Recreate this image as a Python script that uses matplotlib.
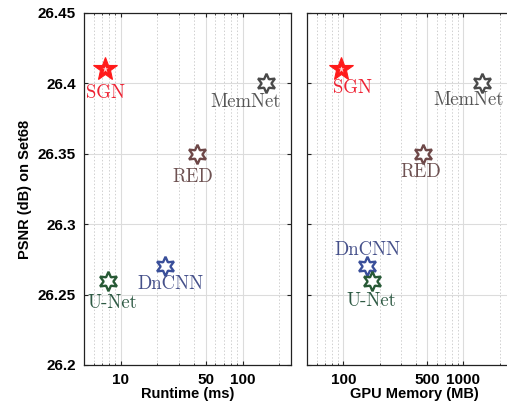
import matplotlib
matplotlib.use("Agg")
import matplotlib.pyplot as plt
from matplotlib.ticker import FixedLocator, FixedFormatter, LogLocator, NullFormatter

methods = ["SGN", "MemNet", "RED", "DnCNN", "U-Net"]
runtime_ms = [7.45, 155, 42, 23.3, 7.9]
memory_mb = [95, 1440, 458, 158, 172]
psnr = [26.41, 26.40, 26.35, 26.27, 26.26]
marker_colors = ["#ff1a1a", "#4a4a4a", "#6e4848", "#3a4f9a", "#285a36"]
text_colors = ["#ee2233", "#555555", "#6e5252", "#45508a", "#2e5a44"]

yticks = [26.2, 26.25, 26.3, 26.35, 26.4, 26.45]
ytick_labels = ["26.2", "26.25", "26.3", "26.35", "26.4", "26.45"]
xticks_rt = [10, 50, 100]
xticks_mem = [100, 500, 1000]

# label offsets in pixels (dx, dy) per panel
offs_rt = [(0, -29), (-20, -24), (-4, -28), (5, -23), (4, -27)]
offs_mem = [(12, -24), (-14, -22), (-2, -23), (0, 11), (0, -25)]

fig = plt.figure(figsize=(5.07, 4.04), dpi=100)
ax1 = fig.add_axes([84/507, 1-365/404, 207/507, 352/404])
ax2 = fig.add_axes([307.3/507, 1-365/404, 213.4/507, 352/404])

tickfont = dict(family="Liberation Sans", weight="bold", size=11)

def style(ax, xlim, xticks, show_ylabels):
    ax.set_xscale("log")
    ax.set_xlim(*xlim)
    ax.set_ylim(26.2, 26.45)
    ax.xaxis.set_major_locator(FixedLocator(xticks))
    ax.xaxis.set_major_formatter(FixedFormatter([str(t) for t in xticks]))
    ax.xaxis.set_minor_locator(LogLocator(base=10, subs=range(2, 10)))
    ax.xaxis.set_minor_formatter(NullFormatter())
    ax.yaxis.set_major_locator(FixedLocator(yticks))
    if show_ylabels:
        ax.yaxis.set_major_formatter(FixedFormatter(ytick_labels))
    else:
        ax.yaxis.set_major_formatter(NullFormatter())
    ax.grid(True, which="major", color="#dcdcdc", lw=0.8, ls="-")
    ax.grid(True, which="minor", axis="x", color="#d0d0d0", lw=0.7, ls=(0, (1.5, 2)))
    ax.set_axisbelow(True)
    ax.tick_params(which="major", direction="in", length=3, width=0.8,
                   top=True, right=True, pad=6, color="#222222")
    ax.tick_params(which="minor", direction="in", length=1.5, width=0.6,
                   top=True, right=True, color="#222222")
    for lab in ax.get_xticklabels() + ax.get_yticklabels():
        lab.set_fontfamily(tickfont["family"])
        lab.set_fontweight("bold")
        lab.set_fontsize(tickfont["size"])
    for s in ax.spines.values():
        s.set_color("#222222")
        s.set_linewidth(0.9)

def draw(ax, xs, offs):
    for i, m in enumerate(methods):
        if m == "SGN":
            ax.plot(xs[i], psnr[i], marker="*", ms=18, mfc=marker_colors[i],
                    mec=marker_colors[i], mew=0.8, ls="none", zorder=3)
            ax.plot(xs[i], psnr[i], marker="*", ms=5, mfc="#ffdddd",
                    mec="none", ls="none", zorder=3.5)
        else:
            ax.plot(xs[i], psnr[i], marker=(6, 1, 0), ms=14, mfc="white",
                    mec=marker_colors[i], mew=1.7, ls="none", zorder=3)
        ax.annotate(m, (xs[i], psnr[i]), xytext=offs[i], textcoords="offset pixels",
                    ha="center", va="baseline", color=text_colors[i],
                    family="cmr10", fontsize=13.5, zorder=4)

style(ax1, (5, 250), xticks_rt, True)
style(ax2, (50, 3000), xticks_mem, False)
ax2.spines["right"].set_visible(False)
ax2.tick_params(which="both", right=False)
draw(ax1, runtime_ms, offs_rt)
draw(ax2, memory_mb, offs_mem)

labfont = dict(family="Liberation Sans", weight="bold", size=10.5)
ax1.set_xlabel("Runtime (ms)", labelpad=0, **labfont)
ax2.set_xlabel("GPU Memory (MB)", labelpad=0, **labfont)
ax1.set_ylabel("PSNR (dB) on Set68", labelpad=4, **labfont)

fig.savefig("out.png", dpi=100)
